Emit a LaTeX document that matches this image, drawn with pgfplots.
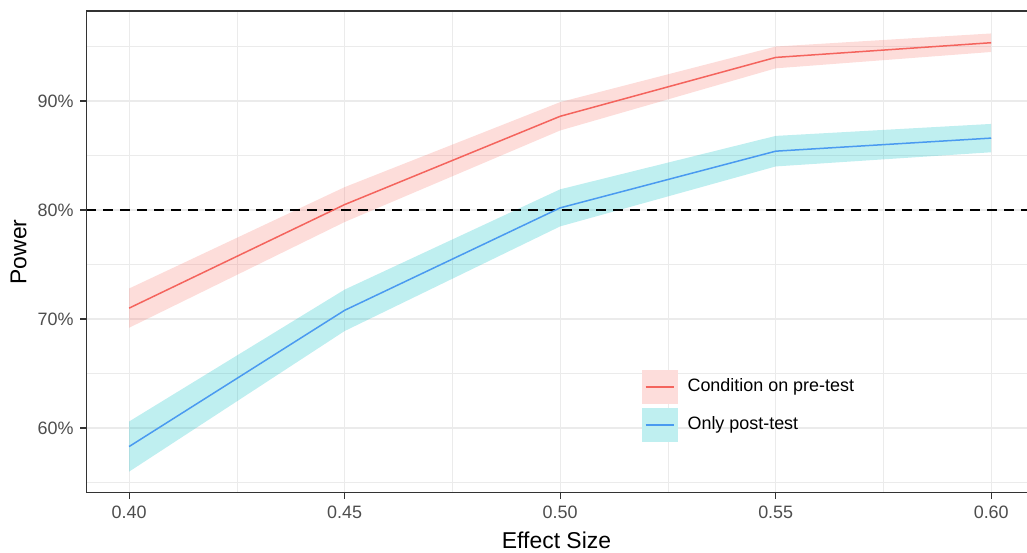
\documentclass[border=0pt]{standalone}
\usepackage{fontspec}
\setmainfont{Liberation Sans}
\usepackage{pgfplots}
\pgfplotsset{compat=1.18}
\usepgfplotslibrary{fillbetween}

\definecolor{redline}{HTML}{F4645D}
\definecolor{redfill}{HTML}{F8766D}
\definecolor{blueline}{HTML}{4A9AF0}
\definecolor{cyanfill}{HTML}{00BFC4}
\definecolor{redkey}{HTML}{FDDDDB}
\definecolor{cyankey}{HTML}{BFEFF0}
\definecolor{gridc}{HTML}{EBEBEB}
\definecolor{framec}{HTML}{333333}
\definecolor{tickc}{HTML}{4D4D4D}

\begin{document}
\begin{tikzpicture}
\begin{axis}[
  name=ax,
  scale only axis,
  width=470.5bp, height=241bp,
  xmin=0.39, xmax=0.6083, ymin=54.04, ymax=98.26,
  axis line style={draw=none},
  xtick={0.40,0.45,0.50,0.55,0.60},
  xticklabels={0.40,0.45,0.50,0.55,0.60},
  ytick={60,70,80,90},
  yticklabels={60\%,70\%,80\%,90\%},
  minor xtick={0.425,0.475,0.525,0.575},
  minor ytick={55,65,75,85,95},
  tick align=outside,
  major tick length=2.75bp,
  minor tick length=0pt,
  xtick pos=bottom, ytick pos=left,
  tick style={framec, line width=0.6bp},
  grid=both,
  major grid style={gridc, line width=0.6bp},
  minor grid style={gridc, line width=0.3bp},
  tick label style={font=\fontsize{9}{10}\selectfont, text=tickc},
  /pgf/number format/assume math mode=true,
  xlabel={Effect Size}, ylabel={Power},
  label style={font=\fontsize{11.5}{13}\selectfont},
  xlabel style={at={(axis description cs:0.5,-0.0975)}, anchor=center},
  ylabel style={at={(axis description cs:-0.0715,0.5)}, anchor=center, rotate=0},
  legend style={at={(rel axis cs:0.59,0.257)}, anchor=north west, draw=none, fill=none,
    inner sep=0pt, row sep=2bp, font=\fontsize{9}{10}\selectfont,
    /tikz/every odd column/.append style={column sep=3bp}},
  legend cell align=left,
]
% legend keys (ribbon square with the line across it)
\addlegendimage{redline, line width=1bp, legend image code/.code={
  \begin{scope}[draw opacity=1, fill opacity=1]
  \fill[redkey] (0bp,-8bp) rectangle (17bp,8bp);
  \draw[redline, line width=1bp] (1.5bp,0bp) -- (15.5bp,0bp);
  \end{scope}}}
\addlegendentry{Condition on pre-test}
\addlegendimage{blueline, line width=1bp, legend image code/.code={
  \begin{scope}[draw opacity=1, fill opacity=1]
  \fill[cyankey] (0bp,-8bp) rectangle (17bp,8bp);
  \draw[blueline, line width=1bp] (1.5bp,0bp) -- (15.5bp,0bp);
  \end{scope}}}
\addlegendentry{Only post-test}

% ribbons: condition on pre-test
\addplot[name path=ru, draw=none, forget plot] coordinates
  {(0.40,72.8) (0.45,82.1) (0.50,89.9) (0.55,95.0) (0.60,96.2)};
\addplot[name path=rl, draw=none, forget plot] coordinates
  {(0.40,69.2) (0.45,78.9) (0.50,87.3) (0.55,93.0) (0.60,94.5)};
\addplot[redfill, fill opacity=0.25, draw=none, forget plot] fill between[of=ru and rl];
% ribbons: only post-test
\addplot[name path=bu, draw=none, forget plot] coordinates
  {(0.40,60.6) (0.45,72.7) (0.50,81.9) (0.55,86.8) (0.60,87.9)};
\addplot[name path=bl, draw=none, forget plot] coordinates
  {(0.40,56.0) (0.45,68.9) (0.50,78.5) (0.55,84.0) (0.60,85.3)};
\addplot[cyanfill, fill opacity=0.25, draw=none, forget plot] fill between[of=bu and bl];

% 80% reference
\addplot[black, line width=1bp, dash pattern=on 5bp off 3.5bp, forget plot] coordinates
  {(0.39,80) (0.6083,80)};

% lines
\addplot[redline, line width=0.75bp, forget plot] coordinates
  {(0.40,71.0) (0.45,80.5) (0.50,88.6) (0.55,94.0) (0.60,95.35)};
\addplot[blueline, line width=0.75bp, forget plot] coordinates
  {(0.40,58.3) (0.45,70.8) (0.50,80.2) (0.55,85.4) (0.60,86.6)};

% panel border (right side falls outside the picture)
\draw[framec, line width=0.6bp] (rel axis cs:1,1) -- (rel axis cs:0,1) -- (rel axis cs:0,0) -- (rel axis cs:1,0);
\end{axis}
\pgfresetboundingbox
\path[use as bounding box] ([shift={(-43bp,-30bp)}]ax.south west) rectangle ([shift={(0bp,5.5bp)}]ax.north east);
\end{tikzpicture}
\end{document}
